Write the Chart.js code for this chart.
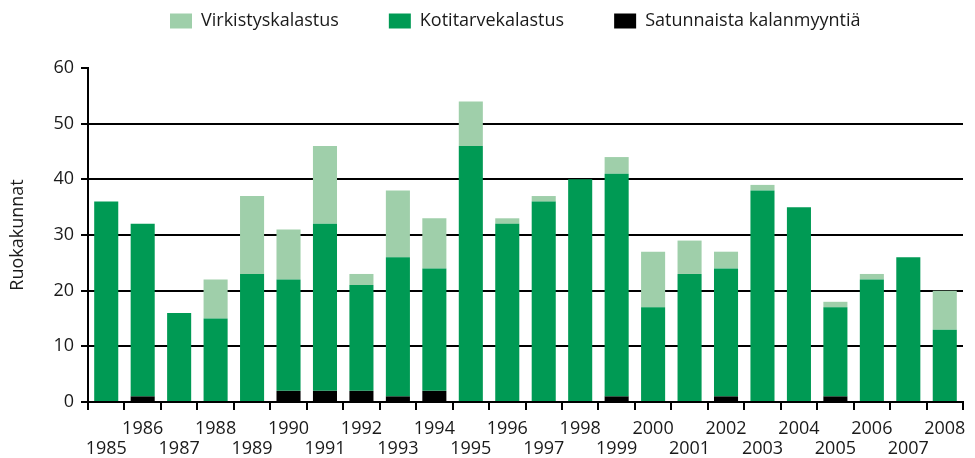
<!DOCTYPE html>
<html>
<head>
<meta charset="utf-8">
<script src="https://cdn.jsdelivr.net/npm/chart.js@4"></script>
<style>
  body { margin: 0; background: #fff; }
  #wrap { width: 975px; height: 458px; }
</style>
</head>
<body>
<div id="wrap"><canvas id="c" width="975" height="458"></canvas></div>
<script>
const years = ["1985","1986","1987","1988","1989","1990","1991","1992","1993","1994","1995","1996",
               "1997","1998","1999","2000","2001","2002","2003","2004","2005","2006","2007","2008"];
// satunnaista kalanmyyntiä (bottom), kotitarvekalastus (middle), virkistyskalastus (top)
const satunnaista = [0,1,0,0,0,2,2,2,1,2,0,0,0,0,1,0,0,1,0,0,1,0,0,0];
const kotitarve   = [36,31,16,15,23,20,30,19,25,22,46,32,36,40,40,17,23,23,38,35,16,22,26,13];
const virkistys   = [0,0,0,7,14,9,14,2,12,9,8,1,1,0,3,10,6,3,1,0,1,1,0,7];
const yTicks = [0,10,20,30,40,50,60];

const FONT = "'Open Sans', 'Noto Sans', sans-serif";
const TXT = "#1a1a1a";
const LEG_PAD = 50;

// legend: fixed band at the top, items placed like the original
const legendBand = {
  id: "legendBand",
  beforeInit(chart) {
    const fit = chart.legend.fit;
    chart.legend.fit = function () {
      fit.bind(chart.legend)();
      this.height = 68;
    };
  },
  afterLayout(chart) {
    chart.legend.left = 170 - LEG_PAD;
    chart.legend.top = 12 - LEG_PAD;
  }
};

new Chart(document.getElementById("c"), {
  type: "bar",
  data: {
    labels: years,
    datasets: [
      { label: "Satunnaista kalanmyyntiä", data: satunnaista, backgroundColor: "#000000" },
      { label: "Kotitarvekalastus", data: kotitarve, backgroundColor: "#009a54" },
      { label: "Virkistyskalastus", data: virkistys, backgroundColor: "#9fcfaa" }
    ]
  },
  options: {
    responsive: false,
    devicePixelRatio: 1,
    animation: false,
    layout: { padding: { left: 0, right: 12, top: 0, bottom: 0 } },
    datasets: { bar: { categoryPercentage: 1, barPercentage: 0.66 } },
    plugins: {
      tooltip: { enabled: false },
      legend: {
        position: "top",
        align: "start",
        reverse: true,
        labels: {
          boxWidth: 22, boxHeight: 15, padding: LEG_PAD,
          color: TXT,
          font: { family: FONT, size: 18 }
        }
      }
    },
    scales: {
      x: {
        stacked: true,
        offset: true,
        afterFit(s) { s.height = 56; },
        grid: { offset: true, drawOnChartArea: false, drawTicks: true, tickLength: 8, color: "#000", lineWidth: 2 },
        border: { display: true, color: "#000", width: 2 },
        ticks: {
          autoSkip: false, maxRotation: 0, padding: 9,
          color: TXT,
          font: { family: FONT, size: 18, lineHeight: 1.111 },
          callback(v, i) {
            const y = years[i];
            return (Number(y) % 2 === 0) ? [y] : ["", y];
          }
        }
      },
      y: {
        stacked: true,
        min: 0, max: 60,
        afterFit(s) { s.width = 88; },
        afterBuildTicks(s) { s.ticks = yTicks.map(v => ({ value: v })); },
        grid: {
          color: ctx => (ctx.tick && (ctx.tick.value === 0 || ctx.tick.value === 60)) ? "rgba(0,0,0,0)" : "#000",
          tickColor: "#000",
          lineWidth: 2,
          tickLength: 7
        },
        border: { display: true, color: "#000", width: 2 },
        ticks: { color: TXT, padding: 7, font: { family: FONT, size: 18 } },
        title: {
          display: true, text: "Ruokakunnat", color: TXT,
          font: { family: FONT, size: 18 }, padding: { top: 7, bottom: 0 }
        }
      }
    }
  },
  plugins: [legendBand]
});
</script>
</body>
</html>
